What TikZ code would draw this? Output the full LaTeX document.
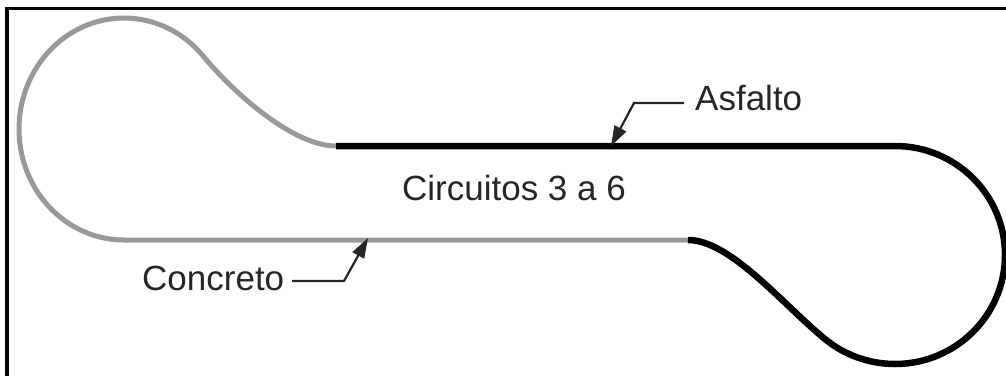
\documentclass[tikz,border=0pt]{standalone}
\usepackage{fontspec}
\setmainfont{Liberation Sans}
\usetikzlibrary{arrows.meta}
\definecolor{concrete}{gray}{0.6}
\tikzset{
  concretepath/.style={draw=concrete, line width=5pt, line join=round},
  asphaltpath/.style={draw=black, line width=6.5pt, line join=round},
  leader/.style={draw=black!85, line width=2.2pt, -{Triangle[length=20pt,width=13pt]}},
  lbl/.style={inner sep=0pt, font=\fontsize{35}{40}\selectfont, text=black!85},
  frameline/.style={draw=black, line width=3.5pt}
}
\begin{document}
\begin{tikzpicture}[x=1pt,y=-1pt]
\useasboundingbox (0,0) rectangle (1006,375);
% outer frame (top and left edges)
\draw[frameline] (1010,8.5) -- (7,8.5) -- (7,380);

% concrete section: lower straight and the left loop
\draw[concretepath] (688,240) -- (124,240)
  arc[start angle=90, end angle=318, x radius=105, y radius=111]
  .. controls (237,97) and (295,146) .. (336,146);

% asphalt section: upper straight and the right loop
\draw[asphaltpath] (336,146) -- (895,146)
  arc[start angle=270, end angle=490, x radius=110, y radius=109]
  .. controls (782,303.5) and (730,240) .. (688,240);

% labels
\node[lbl, anchor=base] (circ) at (514,200) {Circuitos 3 a 6};
\node[lbl, anchor=base west] (asf) at (695,110) {Asfalto};
\node[lbl, anchor=base west] (conc) at (142,290) {Concreto};

% leader lines
\coordinate (asfS) at (684,103);
\coordinate (asfK) at (634,103);
\coordinate (asfT) at (611,146);
\draw[leader] (asfS) -- (asfK) -- (asfT);

\coordinate (concS) at (292,281);
\coordinate (concK) at (344,281);
\coordinate (concT) at (368,238);
\draw[leader] (concS) -- (concK) -- (concT);
\end{tikzpicture}
\end{document}
